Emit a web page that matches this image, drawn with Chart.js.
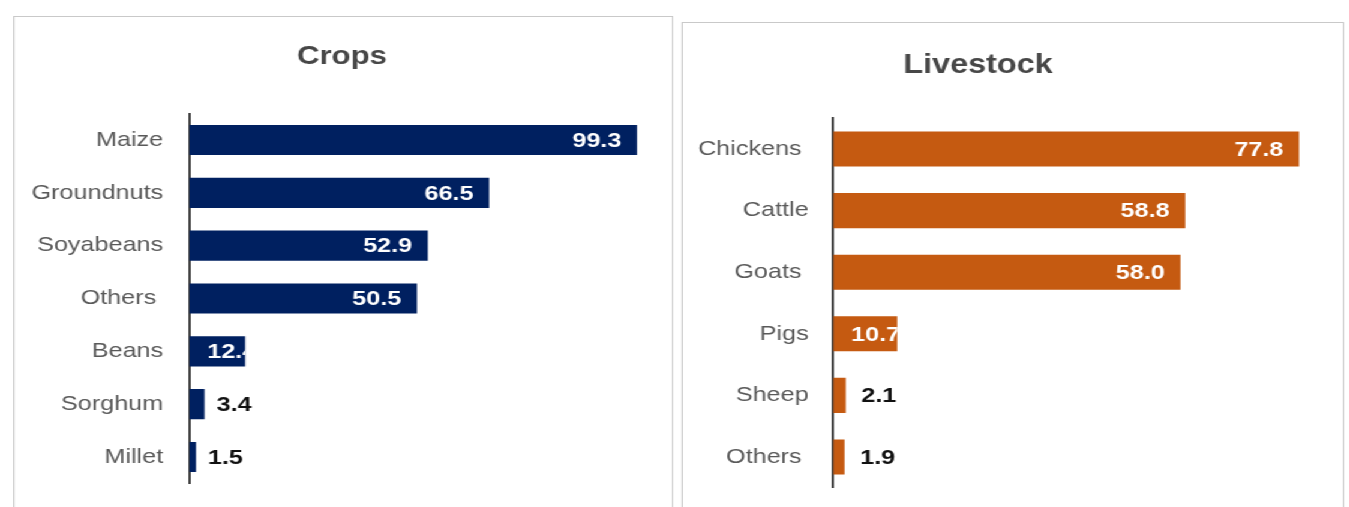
<!DOCTYPE html>
<html>
<head>
<meta charset="utf-8">
<script src="https://cdn.jsdelivr.net/npm/chart.js@4.4.1/dist/chart.umd.min.js"></script>
<style>
  html, body { margin: 0; padding: 0; background: #fff; width: 1349px; height: 507px; overflow: hidden; }
  /* the whole board is laid out narrow and widened horizontally */
  #stage { position: absolute; left: 0; top: 0; width: 1124.2px; height: 507px; transform: scaleX(1.2); transform-origin: 0 0; }
  .panel { position: absolute; border: 1px solid #c9c9c9; box-sizing: border-box; background: #fff; }
  .panel canvas { position: absolute; left: 0; top: 0; }
</style>
</head>
<body>
<div id="stage">
  <div class="panel" style="left:10.8px; top:16px; width:550px; height:520px;">
    <canvas id="cropsChart" width="548" height="490"></canvas>
  </div>
  <div class="panel" style="left:567.5px; top:22px; width:552px; height:520px;">
    <canvas id="livestockChart" width="550" height="484"></canvas>
  </div>
</div>
<script>
// ---- data ----
const cropNames = ['Maize', 'Groundnuts', 'Soyabeans', 'Others ', 'Beans', 'Sorghum', 'Millet'];
const cropValues = [99.3, 66.5, 52.9, 50.5, 12.4, 3.4, 1.5];

const livestockNames = ['Chickens ', 'Cattle', 'Goats ', 'Pigs', 'Sheep', 'Others '];
const livestockValues = [77.8, 58.8, 58.0, 10.7, 2.1, 1.9];

const FONT = "'Liberation Sans', Arial, sans-serif";

// Panel heading drawn at a fixed spot above the plot
const panelTitle = {
  id: 'panelTitle',
  afterDraw(chart, args, opts) {
    const ctx = chart.ctx;
    ctx.save();
    ctx.font = `bold ${opts.size}px ${FONT}`;
    ctx.fillStyle = opts.color;
    ctx.textAlign = 'center';
    ctx.textBaseline = 'alphabetic';
    ctx.fillText(opts.text, opts.x, opts.y);
    ctx.restore();
  }
};

// Value labels: white inside the bar end for long bars, black just past the end for short ones
const valueLabels = {
  id: 'valueLabels',
  afterDatasetsDraw(chart, args, opts) {
    const ctx = chart.ctx;
    const meta = chart.getDatasetMeta(0);
    const values = chart.data.datasets[0].data;
    ctx.save();
    ctx.font = `bold ${opts.size}px ${FONT}`;
    ctx.textBaseline = 'middle';
    ctx.textAlign = 'left';
    meta.data.forEach((bar, i) => {
      const v = values[i];
      const text = v.toFixed(1);
      const w = ctx.measureText(text).width;
      const { x, y, base, height } = bar.getProps(['x', 'y', 'base', 'height'], true);
      if (v >= opts.insideFrom) {
        const tx = Math.max(x - opts.insidePad - w, base + opts.basePad);
        ctx.save();
        ctx.beginPath();
        ctx.rect(base, y - height / 2, x - base, height);
        ctx.clip();
        ctx.fillStyle = '#ffffff';
        ctx.fillText(text, tx, y + 1);
        ctx.restore();
      } else {
        ctx.fillStyle = '#111111';
        ctx.fillText(text, x + opts.outsidePad, y + 1);
      }
    });
    ctx.restore();
  }
};

function barChart(canvasId, names, values, s) {
  return new Chart(document.getElementById(canvasId), {
    type: 'bar',
    data: {
      labels: names,
      datasets: [{
        data: values,
        backgroundColor: s.color,
        borderWidth: 0,
        barPercentage: 0.57,
        categoryPercentage: 1.0
      }]
    },
    options: {
      indexAxis: 'y',
      responsive: false,
      animation: false,
      devicePixelRatio: 1,
      layout: { padding: { left: 0, top: s.top, right: s.right, bottom: s.bottom } },
      scales: {
        x: { display: false, min: 0, max: s.xMax },
        y: {
          grid: { display: false, drawTicks: false },
          border: { display: true, color: '#404040', width: 2 },
          ticks: {
            color: '#595959',
            padding: s.labelPad,
            font: { family: FONT, size: 21 }
          },
          afterFit(scale) {
            scale.width = s.axisLeft;
            scale.paddingTop = 0;
            scale.paddingBottom = 0;
          }
        }
      },
      plugins: {
        legend: { display: false },
        tooltip: { enabled: false },
        panelTitle: { text: s.title, x: s.titleX, y: s.titleY, size: s.titleSize, color: '#474747' },
        valueLabels: { size: 21, insideFrom: 10, insidePad: 13, basePad: 15, outsidePad: s.outsidePad }
      }
    },
    plugins: [panelTitle, valueLabels]
  });
}

barChart('cropsChart', cropNames, cropValues, {
  color: '#002060',
  title: 'Crops', titleX: 273, titleY: 47, titleSize: 26,
  top: 96.6, bottom: 23.6, right: 26.5,
  axisLeft: 145.7, labelPad: 21.7, xMax: 100, outsidePad: 10
});

barChart('livestockChart', livestockNames, livestockValues, {
  color: '#C55A11',
  title: 'Livestock', titleX: 246, titleY: 50, titleSize: 27,
  top: 95.2, bottom: 19.2, right: 25.5,
  axisLeft: 125.3, labelPad: 20.4, xMax: 80, outsidePad: 13
});
</script>
</body>
</html>
